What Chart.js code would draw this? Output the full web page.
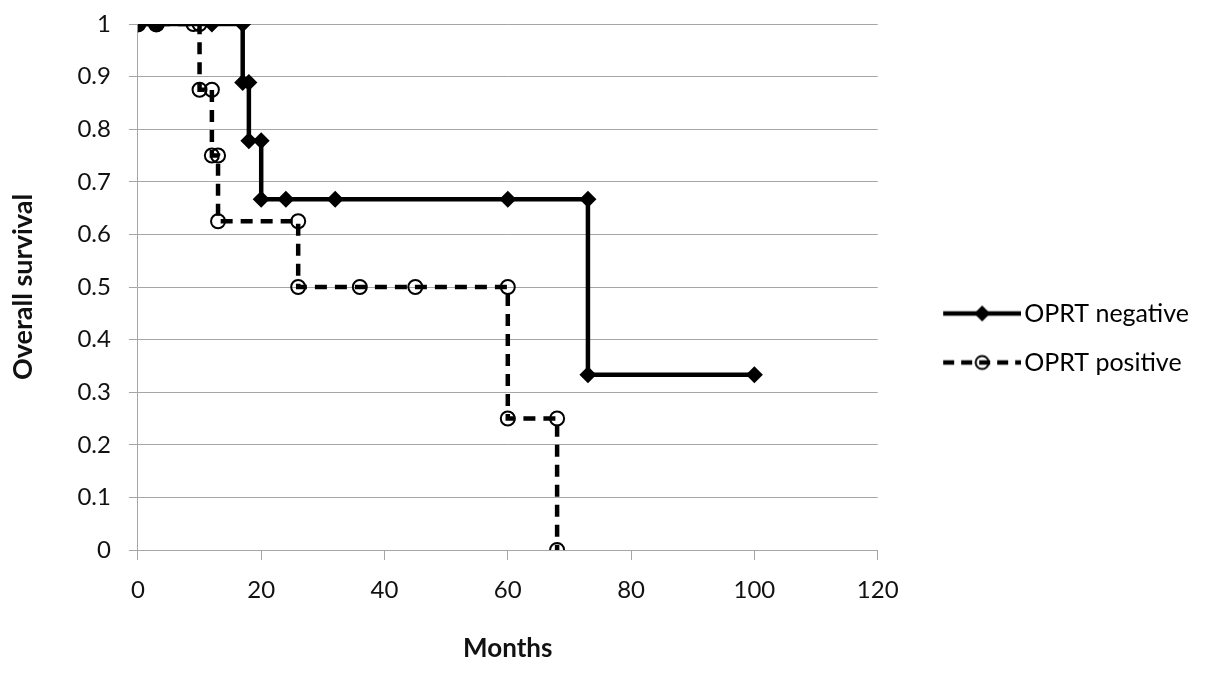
<!DOCTYPE html>
<html>
<head>
<meta charset="utf-8">
<script src="https://cdn.jsdelivr.net/npm/chart.js@4.4.0/dist/chart.umd.min.js"></script>
<style>
  html, body { margin: 0; padding: 0; background: #fff; }
  #wrap { width: 1205px; height: 673px; }
</style>
</head>
<body>
<div id="wrap"><canvas id="chart" width="1205" height="673"></canvas></div>
<script>
// ── Data ─────────────────────────────────────────────────
var negMonths   = [0, 3, 12, 17, 17, 18, 18, 20, 20, 24, 32, 60, 73, 73, 100];
var negSurvival = [1, 1, 1, 1, 0.889, 0.889, 0.778, 0.778, 0.667, 0.667, 0.667, 0.667, 0.667, 0.333, 0.333];

var posMonths   = [0, 3, 9, 10, 10, 12, 12, 13, 13, 26, 26, 36, 45, 60, 60, 68, 68];
var posSurvival = [1, 1, 1, 1, 0.875, 0.875, 0.75, 0.75, 0.625, 0.625, 0.5, 0.5, 0.5, 0.5, 0.25, 0.25, 0];

var seriesLabels = ['OPRT negative', 'OPRT positive'];
var xTitle = 'Months';
var yTitle = 'Overall survival';

// ── Helpers ──────────────────────────────────────────────
var FONT = "Lato, 'Open Sans', sans-serif";
var GRID = '#a6a6a6';
var LEGEND_FONT = 25;
var SWATCH_BOX = 110;     // legend box width reserved for the swatch

function toPoints(xs, ys) {
    return xs.map(function (x, i) { return { x: x, y: ys[i] }; });
}

// legend swatch: line with a marker in the middle.
// The image is drawn centred on the box, so the drawn part sits on its right side.
function legendSwatch(dashed) {
    var w = SWATCH_BOX + LEGEND_FONT - 6;
    var c = document.createElement('canvas');
    c.width = w; c.height = 18;
    var g = c.getContext('2d');
    var x1 = w - 78, x2 = w, mid = (x1 + x2) / 2;
    g.strokeStyle = '#000';
    g.lineWidth = 4.5;
    if (dashed) g.setLineDash([11, 7]);
    g.beginPath(); g.moveTo(x1, 9); g.lineTo(x2, 9); g.stroke();
    g.setLineDash([]);
    if (dashed) {
        g.lineWidth = 2;
        g.beginPath(); g.arc(mid, 9, 6.5, 0, Math.PI * 2); g.stroke();
    } else {
        g.fillStyle = '#000';
        g.beginPath();
        g.moveTo(mid, 1); g.lineTo(mid + 8, 9); g.lineTo(mid, 17); g.lineTo(mid - 8, 9);
        g.closePath(); g.fill();
    }
    return c;
}

var swatches = [legendSwatch(false), legendSwatch(true)];

new Chart(document.getElementById('chart'), {
    type: 'scatter',
    data: {
        datasets: [{
            label: seriesLabels[0],
            data: toPoints(negMonths, negSurvival),
            showLine: true,
            borderColor: '#000',
            backgroundColor: '#000',
            borderWidth: 4.5,
            pointStyle: function (ctx) { return ctx.dataIndex < 2 ? 'circle' : 'rectRot'; },
            pointRadius: 8.5,
            pointBorderWidth: 0,
            pointBackgroundColor: '#000',
            pointHoverRadius: 8.5
        }, {
            label: seriesLabels[1],
            data: toPoints(posMonths, posSurvival),
            showLine: true,
            borderColor: '#000',
            backgroundColor: 'rgba(0,0,0,0)',
            borderWidth: 4.5,
            borderDash: [12, 8],
            pointStyle: 'circle',
            pointRadius: 7,
            pointBorderWidth: 2,
            pointBorderColor: '#000',
            pointBackgroundColor: 'rgba(0,0,0,0)',
            pointHoverRadius: 7
        }]
    },
    options: {
        responsive: false,
        animation: false,
        layout: { padding: { left: 7, right: 6, top: 12, bottom: 9 } },
        plugins: {
            tooltip: { enabled: false },
            legend: {
                position: 'right',
                maxWidth: 400,
                labels: {
                    usePointStyle: true,
                    pointStyleWidth: SWATCH_BOX,
                    padding: 24,
                    color: '#111',
                    font: { family: FONT, size: LEGEND_FONT },
                    generateLabels: function (chart) {
                        return chart.data.datasets.map(function (ds, i) {
                            return {
                                text: ds.label,
                                pointStyle: swatches[i],
                                fillStyle: 'rgba(0,0,0,0)',
                                strokeStyle: 'rgba(0,0,0,0)',
                                lineWidth: 0,
                                hidden: false,
                                datasetIndex: i
                            };
                        });
                    }
                }
            }
        },
        scales: {
            x: {
                type: 'linear',
                min: 0,
                max: 120,
                ticks: {
                    stepSize: 20,
                    color: '#111',
                    padding: 16,
                    font: { family: FONT, size: 24 }
                },
                grid: {
                    drawOnChartArea: false,
                    drawTicks: true,
                    tickLength: 10,
                    color: GRID
                },
                border: { color: GRID, width: 1 },
                title: {
                    display: true,
                    text: xTitle,
                    color: '#111',
                    padding: { top: 12, bottom: 0 },
                    font: { family: FONT, size: 26, weight: 'bold' }
                }
            },
            y: {
                min: 0,
                max: 1,
                afterFit: function (scale) { scale.paddingTop = 24; },
                ticks: {
                    stepSize: 0.1,
                    color: '#111',
                    padding: 18,
                    font: { family: FONT, size: 24 },
                    callback: function (v) { return String(parseFloat(v.toFixed(1))); }
                },
                grid: {
                    color: GRID,
                    drawTicks: true,
                    tickLength: 9
                },
                border: { color: GRID, width: 1 },
                title: {
                    display: true,
                    text: yTitle,
                    color: '#111',
                    padding: { top: 0, bottom: 20 },
                    font: { family: FONT, size: 27, weight: 'bold' }
                }
            }
        }
    }
});
</script>
</body>
</html>
